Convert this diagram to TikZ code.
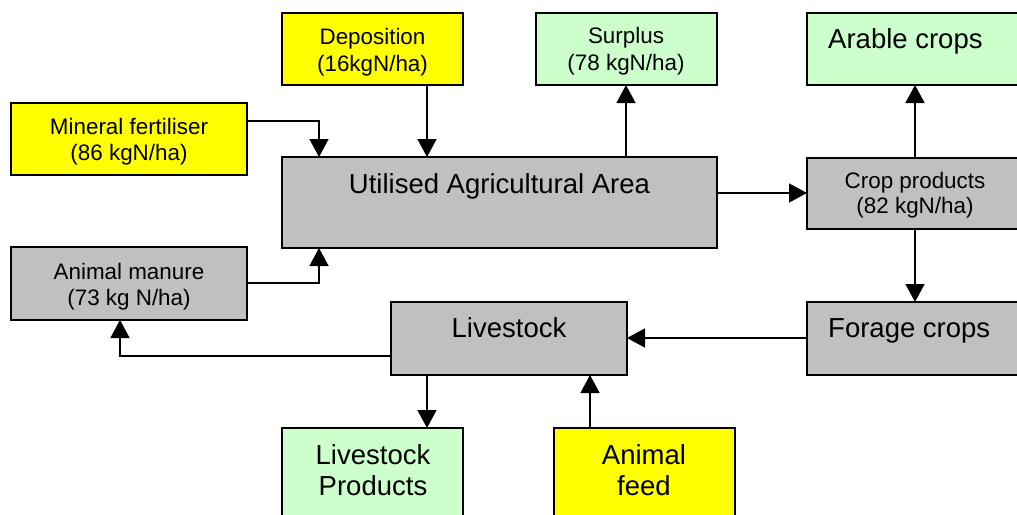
\documentclass[tikz,border=0pt]{standalone}
\usepackage{fontspec}
\setmainfont{Liberation Sans}
\usetikzlibrary{arrows.meta,calc}
\definecolor{ylw}{HTML}{FFFF00}
\definecolor{grn}{HTML}{CCFFCC}
\definecolor{gry}{HTML}{C0C0C0}
\tikzset{
  box/.style={draw=black, line width=1.6pt, rectangle, inner sep=0pt, outer sep=0pt, anchor=north west},
  small/.style={font=\fontsize{22.4}{26}\selectfont, anchor=base, inner sep=0pt},
  big/.style={font=\fontsize{27.5}{31}\selectfont, anchor=base, inner sep=0pt},
  arr/.style={line width=1.4pt, -{Triangle[width=19pt,length=18pt]}},
}
\begin{document}
\begin{tikzpicture}[x=1pt,y=-1pt]
\useasboundingbox (0,0) rectangle (1017,514);
% boxes
\node[box, fill=ylw, minimum width=181pt, minimum height=72pt] (dep) at (282,13) {};
\node[box, fill=ylw, minimum width=236pt, minimum height=72pt] (min) at (11,103) {};
\node[box, fill=gry, minimum width=435pt, minimum height=91pt] (uaa) at (282,157) {};
\node[box, fill=grn, minimum width=181pt, minimum height=72pt] (sur) at (536,13) {};
\node[box, fill=grn, minimum width=225pt, minimum height=72pt] (ara) at (807,13) {};
\node[box, fill=gry, minimum width=225pt, minimum height=71pt] (crop) at (807,158) {};
\node[box, fill=gry, minimum width=225pt, minimum height=73pt] (forage) at (807,302) {};
\node[box, fill=gry, minimum width=236pt, minimum height=73pt] (live) at (391,302) {};
\node[box, fill=gry, minimum width=236pt, minimum height=73pt] (man) at (11,247) {};
\node[box, fill=grn, minimum width=181pt, minimum height=100pt] (lp) at (282,428) {};
\node[box, fill=ylw, minimum width=181pt, minimum height=100pt] (feed) at (554,428) {};
% texts
\node[small] (t1) at (372.5,44) {Deposition};
\node[small] (t2) at (372.5,71) {(16kgN/ha)};
\node[small] (t3) at (129,134) {Mineral fertiliser};
\node[small] (t4) at (129,160) {(86 kgN/ha)};
\node[small] (t5) at (626,43) {Surplus};
\node[small] (t6) at (626,70) {(78 kgN/ha)};
\node[big, anchor=base west] (t7) at (828,48) {Arable crops};
\node[big] (t8) at (499.5,193) {Utilised Agricultural Area};
\node[small] (t9) at (915,188) {Crop products};
\node[small] (t10) at (915,213) {(82 kgN/ha)};
\node[small] (t11) at (129,279) {Animal manure};
\node[small] (t12) at (129,305) {(73 kg N/ha)};
\node[big] (t13) at (509,337) {Livestock};
\node[big, anchor=base west] (t14) at (828,337) {Forage crops};
\node[big] (t15) at (373,464) {Livestock};
\node[big] (t16) at (373,495) {Products};
\node[big] (t17) at (644,464) {Animal};
\node[big] (t18) at (644,495) {feed};
% connectors
\draw[arr] ($(min.north east)+(0,18)$) -| ($(uaa.north west)+(37,0)$);
\draw[arr] ($(dep.south west)+(145,0)$) -- ($(uaa.north west)+(145,0)$);
\draw[arr] ($(uaa.north west)+(344,0)$) -- ($(sur.south west)+(90,0)$);
\draw[arr] ($(uaa.north east)+(0,36)$) -- ($(crop.north west)+(0,35)$);
\draw[arr] ($(crop.north west)+(108,0)$) -- ($(ara.south west)+(108,0)$);
\draw[arr] ($(crop.south west)+(108,0)$) -- ($(forage.north west)+(108,0)$);
\draw[arr] ($(forage.north west)+(0,36)$) -- ($(live.north east)+(0,36)$);
\draw[arr] ($(live.north west)+(0,54)$) -| ($(man.south west)+(109,0)$);
\draw[arr] ($(man.north east)+(0,36)$) -| ($(uaa.south west)+(37,0)$);
\draw[arr] ($(live.south west)+(36,0)$) -- ($(lp.north west)+(145,0)$);
\draw[arr] ($(feed.north west)+(36,0)$) -- ($(live.south west)+(199,0)$);
\end{tikzpicture}
\end{document}
